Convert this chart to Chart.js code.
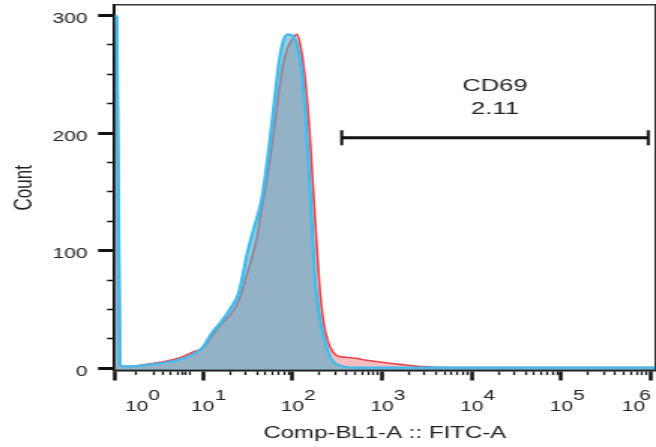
<!DOCTYPE html>
<html lang="en">
<head>
<meta charset="utf-8">
<title>CD69 - Comp-BL1-A :: FITC-A</title>
<script src="https://cdn.jsdelivr.net/npm/chart.js@4.4.0/dist/chart.umd.min.js"></script>
<style>
    html, body { margin: 0; padding: 0; background: #fff; overflow: hidden; }
    /* a figura original vem esticada na horizontal (~1.5x): desenha estreito e estica */
    #chart-wrap { width: 437px; height: 447px; transform: scaleX(1.5011); transform-origin: 0 0; }
    #chart-cd69 { display: block; }
</style>
</head>
<body>
<div id="chart-wrap"><canvas id="chart-cd69" width="437" height="447"></canvas></div>
<script>
// =====================================================
// DADOS DO HISTOGRAMA
// =====================================================

// posição no eixo de exibição, em décadas (10^1 = 1 ... 10^6 = 6)
const channelPos = [0.015, 0.04, 0.075, 0.12, 0.2, 0.4, 0.6, 0.75, 0.9, 1.0,
    1.1, 1.2, 1.3, 1.4, 1.5, 1.6, 1.65, 1.7, 1.75, 1.8,
    1.85, 1.9, 1.95, 2.0, 2.05, 2.1, 2.15, 2.2, 2.25, 2.3,
    2.35, 2.4, 2.45, 2.5, 2.6, 2.7, 2.8, 2.9, 3.0, 3.2,
    3.4, 3.6, 4.0, 5.0, 6.045];

// controle (linha azul)
const countControl = [300, 299, 3, 1.5, 1.5, 3, 5, 7.5, 12, 18,
    30, 39, 50, 64, 99, 127, 141, 165, 195, 228,
    260, 279, 284, 283, 275, 255, 211, 148, 78, 45,
    26, 13, 6, 3, 1, 0.5, 0.5, 0.5, 0.5, 0.5,
    0.5, 0.5, 0.5, 0.5, 0.5];

// amostra (linha vermelha)
const countSample = [296, 295, 3, 1.5, 1.5, 3.5, 6, 9, 14, 17,
    27, 37, 45, 57, 82, 110, 132, 154, 178, 206,
    236, 260, 273, 280, 284, 270, 240, 192, 130, 72,
    38, 22, 14, 10.5, 9.2, 8.5, 7, 6, 5, 3.2,
    1.5, 0.7, 0.5, 0.5, 0.5];

// gate CD69
const gateName = 'CD69';
const gatePercent = '2.11';
const gateRange = [2.55, 5.97];
const gateLevel = [196, 196];

// eixos
const X_MIN = 0.015;
const X_MAX = 6.045;
const Y_MIN = -2;
const Y_MAX = 309;
const xLabelPos = [0.26, 1, 2, 3, 4, 5, 6];
const xLabelExp = ['0', '1', '2', '3', '4', '5', '6'];
const xMajorTicks = [X_MIN, 1, 2, 3, 4, 5, 6];
const xDecadeZeroMinor = [0.46, 0.55, 0.63, 0.72, 0.77, 0.81, 0.86];
const yMajorTicks = [0, 100, 200, 300];
const yMinorTicks = [25, 50, 75, 125, 150, 175, 225, 250, 275];

// =====================================================
// CONFIGURAÇÕES
// =====================================================

const ChartConfig = {
    canvasId: 'chart-cd69',
    font: '"Liberation Sans", Arial, Helvetica, sans-serif',
    textColor: '#222',
    axisColor: '#111',
    control: { line: '#3fbcee', fill: 'rgba(88, 172, 204, 0.62)' },
    sample: { line: '#e8464b', fill: 'rgba(235, 90, 95, 0.4)' }
};

// =====================================================
// TICKS
// =====================================================

/**
 * Ticks do eixo x: décadas, subdivisões logarítmicas e o início do eixo
 */
function montarTicksX(scale) {
    const minors = [];
    for (let k = 1; k < 6; k++) {
        for (let m = 2; m <= 9; m++) minors.push(k + Math.log10(m));
    }
    const valores = [...xMajorTicks, ...xLabelPos.filter(v => !xMajorTicks.includes(v)),
        ...xDecadeZeroMinor, ...minors].sort((a, b) => a - b);
    scale.ticks = valores.map(v => ({ value: v }));
}

function montarTicksY(scale) {
    const valores = [...yMajorTicks, ...yMinorTicks].sort((a, b) => a - b);
    scale.ticks = valores.map(v => ({ value: v }));
}

function rotuloX(value, index, ticks) {
    const i = xLabelPos.indexOf(value);
    if (i < 0) return '';
    const expoente = ' '.repeat(6) + xLabelExp[i];
    // o último rótulo fica alinhado à direita (align: 'inner')
    return index === ticks.length - 1 ? [expoente, '10 '] : [expoente, '10'];
}

// =====================================================
// PLUGIN DO RÓTULO DO GATE
// =====================================================

const gateLabelPlugin = {
    id: 'gateLabel',
    afterDatasetsDraw(chart) {
        const { ctx, scales: { x, y } } = chart;
        const cx = x.getPixelForValue((gateRange[0] + gateRange[1]) / 2);
        const cy = y.getPixelForValue(gateLevel[0]);
        ctx.save();
        ctx.font = '17px ' + ChartConfig.font;
        ctx.fillStyle = ChartConfig.textColor;
        ctx.textAlign = 'center';
        ctx.textBaseline = 'middle';
        ctx.fillText(gateName, cx, cy - 51);
        ctx.fillText(gatePercent, cx, cy - 28);
        ctx.restore();
    }
};

// =====================================================
// CRIAÇÃO DO GRÁFICO
// =====================================================

function criarGrafico() {
    const ctx = document.getElementById(ChartConfig.canvasId);
    if (!ctx) return;

    const serie = valores => channelPos.map((x, i) => ({ x, y: valores[i] }));
    const moldura = pos => ({
        type: 'linear',
        position: pos,
        grid: { drawOnChartArea: false, drawTicks: false },
        ticks: { display: false },
        border: { display: true, color: '#333', width: 1.5 },
        afterFit: s => { s.width = pos === 'right' ? 0 : s.width; s.height = pos === 'top' ? 0 : s.height; }
    });

    new Chart(ctx, {
        type: 'line',
        data: {
            datasets: [
                {
                    label: gateName,
                    data: gateRange.map((x, i) => ({ x, y: gateLevel[i] })),
                    borderColor: ChartConfig.axisColor,
                    borderWidth: 3,
                    pointStyle: 'line',
                    pointRotation: 90,
                    pointRadius: 7.5,
                    pointBorderWidth: 2,
                    pointBorderColor: ChartConfig.axisColor,
                    fill: false
                },
                {
                    label: 'Control',
                    data: serie(countControl),
                    borderColor: ChartConfig.control.line,
                    backgroundColor: ChartConfig.control.fill,
                    borderWidth: 2.2,
                    pointRadius: 0,
                    cubicInterpolationMode: 'monotone',
                    fill: 'start'
                },
                {
                    label: 'Sample',
                    data: serie(countSample),
                    borderColor: ChartConfig.sample.line,
                    backgroundColor: ChartConfig.sample.fill,
                    borderWidth: 1.6,
                    pointRadius: 0,
                    cubicInterpolationMode: 'monotone',
                    fill: 'start'
                }
            ]
        },
        options: {
            responsive: false,
            animation: false,
            layout: { autoPadding: false, padding: { top: 5, right: 0.7, bottom: 0, left: 0 } },
            plugins: {
                legend: { display: false },
                tooltip: { enabled: false }
            },
            scales: {
                x: {
                    type: 'linear',
                    position: 'bottom',
                    min: X_MIN,
                    max: X_MAX,
                    afterBuildTicks: montarTicksX,
                    afterFit: s => { s.height = 76.5; s.paddingLeft = 0; s.paddingRight = 0; },
                    border: { display: true, color: ChartConfig.axisColor, width: 2.5 },
                    grid: {
                        drawOnChartArea: false,
                        tickLength: 10,
                        tickColor: ChartConfig.axisColor,
                        tickWidth: c => xMajorTicks.includes(c.tick.value) ? 2.5 : 1.3,
                        tickBorderDash: c => xMajorTicks.includes(c.tick.value) ? [] : [3.5, 50]
                    },
                    ticks: {
                        autoSkip: false,
                        minRotation: 0,
                        maxRotation: 0,
                        align: 'inner',
                        padding: 10,
                        color: ChartConfig.textColor,
                        font: { family: ChartConfig.font, size: 14, lineHeight: 0.775 },
                        callback: rotuloX
                    },
                    title: {
                        display: true,
                        text: 'Comp-BL1-A :: FITC-A',
                        color: ChartConfig.textColor,
                        font: { family: ChartConfig.font, size: 16 },
                        padding: { top: 0, bottom: 4 }
                    }
                },
                y: {
                    type: 'linear',
                    position: 'left',
                    min: Y_MIN,
                    max: Y_MAX,
                    afterBuildTicks: montarTicksY,
                    afterFit: s => { s.width = 76.3; s.paddingTop = 0; s.paddingBottom = 0; },
                    border: { display: true, color: ChartConfig.axisColor, width: 2 },
                    grid: {
                        drawOnChartArea: false,
                        tickLength: 11,
                        tickColor: ChartConfig.axisColor,
                        tickWidth: c => yMajorTicks.includes(c.tick.value) ? 3 : 1.5,
                        tickBorderDash: c => yMajorTicks.includes(c.tick.value) ? [] : [0, 6, 4, 50]
                    },
                    ticks: {
                        autoSkip: false,
                        padding: 7,
                        labelOffset: 4,
                        color: ChartConfig.textColor,
                        font: { family: ChartConfig.font, size: 14 },
                        callback: v => yMajorTicks.includes(v) ? String(v) : ''
                    },
                    title: {
                        display: true,
                        text: 'Count',
                        color: ChartConfig.textColor,
                        font: { family: ChartConfig.font, size: 17 },
                        padding: { top: 6, bottom: 0 }
                    }
                },
                xTop: moldura('top'),
                yRight: moldura('right')
            }
        },
        plugins: [gateLabelPlugin]
    });
}

criarGrafico();
</script>
</body>
</html>
